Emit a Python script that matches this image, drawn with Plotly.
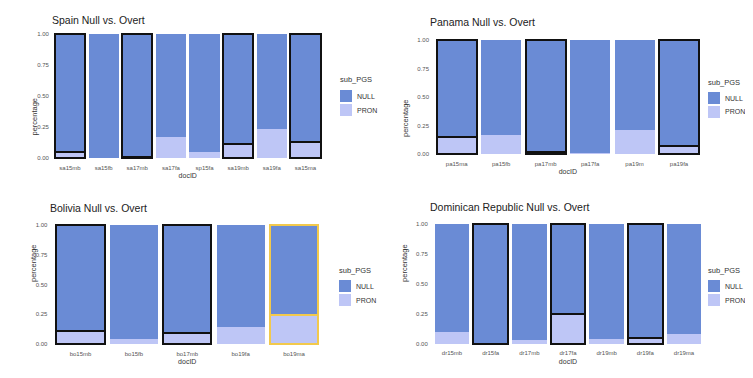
import plotly.graph_objects as go

# ---------------- data ----------------
spain_ids = ["sa15mb", "sa15fb", "sa17mb", "sa17fa", "sp15fa", "sa19mb", "sa19fa", "sa15ma"]
spain_null = [0.95, 1.00, 0.99, 0.83, 0.95, 0.89, 0.77, 0.87]
spain_pron = [0.05, 0.00, 0.01, 0.17, 0.05, 0.11, 0.23, 0.13]

panama_ids = ["pa15ma", "pa15fb", "pa17mb", "pa17fa", "pa19m", "pa19fa"]
panama_null = [0.85, 0.83, 0.98, 0.99, 0.79, 0.93]
panama_pron = [0.15, 0.17, 0.02, 0.01, 0.21, 0.07]

bolivia_ids = ["bo15mb", "bo15fb", "bo17mb", "bo19fa", "bo19ma"]
bolivia_null = [0.89, 0.96, 0.91, 0.86, 0.76]
bolivia_pron = [0.11, 0.04, 0.09, 0.14, 0.24]

dr_ids = ["dr15mb", "dr15fa", "dr17mb", "dr17fa", "dr19mb", "dr19fa", "dr19ma"]
dr_null = [0.90, 1.00, 0.97, 0.75, 0.96, 0.95, 0.92]
dr_pron = [0.10, 0.00, 0.03, 0.25, 0.04, 0.05, 0.08]

titles = ["Spain Null vs. Overt", "Panama Null vs. Overt",
          "Bolivia Null vs. Overt", "Dominican Republic Null vs. Overt"]
legend_title = "sub_PGS"
series_names = ["NULL", "PRON"]
y_ticks = [0, 0.25, 0.5, 0.75, 1.0]
y_tick_labels = ["0.00", "0.25", "0.50", "0.75", "1.00"]

# ---------------- styles / layout ----------------
OFF = 8  # default page body margin
W, H = 753 - 2 * OFF, 378 - 2 * OFF
C_NULL = "#6a8bd5"
C_PRON = "#bec6f6"
BLK = "#111111"
GOLD = "#f2c94c"
NONE = "rgba(0,0,0,0)"

panels = [
    dict(ids=spain_ids, null=spain_null, pron=spain_pron, first=70, last=305.5, y0=158, y1=34,
         outline=[BLK, NONE, BLK, NONE, NONE, BLK, NONE, BLK],
         title_xy=(50, 20), leg_xy=(338, 80), ytitle_x=27),
    dict(ids=panama_ids, null=panama_null, pron=panama_pron, first=456.7, last=679, y0=154, y1=40,
         outline=[BLK, NONE, BLK, NONE, NONE, BLK],
         title_xy=(428, 22), leg_xy=(706, 82), ytitle_x=405),
    dict(ids=bolivia_ids, null=bolivia_null, pron=bolivia_pron, first=80.5, last=294, y0=344, y1=225,
         outline=[BLK, NONE, BLK, NONE, GOLD],
         title_xy=(48, 208), leg_xy=(337, 270), ytitle_x=27),
    dict(ids=dr_ids, null=dr_null, pron=dr_pron, first=452, last=684, y0=343.5, y1=224.3,
         outline=[NONE, BLK, NONE, BLK, NONE, BLK, NONE],
         title_xy=(428, 207), leg_xy=(706, 270), ytitle_x=405),
]


def px(v):
    return v - OFF


def fx(v):
    return px(v) / W


def fy(v):
    return 1 - px(v) / H


FONT = "Liberation Sans, Arial, sans-serif"
fig = go.Figure()
layout = dict(width=W, height=H, margin=dict(l=0, r=0, t=0, b=0),
              paper_bgcolor="white", plot_bgcolor="white", barmode="stack",
              font=dict(family=FONT, color="#333"), annotations=[], shapes=[], showlegend=False)

for i, p in enumerate(panels, start=1):
    n = len(p["ids"])
    first, last, y0, y1 = px(p["first"]), px(p["last"]), px(p["y0"]), px(p["y1"])
    sp = (last - first) / (n - 1)
    xd = [(first - 0.6 * sp) / W, (last + 0.6 * sp) / W]
    sc = y0 - y1
    yd = [1 - (y0 + 0.04 * sc) / H, 1 - (y1 - 0.04 * sc) / H]
    sfx = "" if i == 1 else str(i)
    widths = [0 if c == NONE else 2 for c in p["outline"]]
    for name, vals, col in [(series_names[1], p["pron"], C_PRON), (series_names[0], p["null"], C_NULL)]:
        fig.add_trace(go.Bar(x=list(range(n)), y=vals, name=name, width=0.9, showlegend=False,
                             marker=dict(color=col, line=dict(color=p["outline"], width=widths)),
                             xaxis="x" + sfx, yaxis="y" + sfx))
    layout["xaxis" + sfx] = dict(domain=xd, anchor="y" + sfx, range=[-0.6, n - 0.4],
                                 tickmode="array", tickvals=list(range(n)), ticktext=p["ids"],
                                 tickfont=dict(size=6, color="#555"), showgrid=False,
                                 zeroline=False, showline=False, ticks="", ticklen=0,
                                 title=dict(text="docID", font=dict(size=7, color="#333"), standoff=3))
    layout["yaxis" + sfx] = dict(domain=yd, anchor="x" + sfx, range=[-0.04, 1.04],
                                 tickmode="array", tickvals=y_ticks, ticktext=y_tick_labels,
                                 tickfont=dict(size=6, color="#555"), showgrid=False,
                                 zeroline=False, showline=False, ticks="")
    # ggplot-style legend: title + adjacent square keys with labels
    lx, ly = p["leg_xy"]
    layout["annotations"].append(dict(text=legend_title, x=fx(lx), y=fy(ly), xref="paper", yref="paper",
                                      xanchor="left", yanchor="middle", showarrow=False,
                                      font=dict(size=7.5, color="#333")))
    for k, (name, col) in enumerate([(series_names[0], C_NULL), (series_names[1], C_PRON)]):
        top = ly + 10 + k * 14
        layout["shapes"].append(dict(type="rect", xref="paper", yref="paper",
                                     x0=fx(lx + 2), x1=fx(lx + 14), y0=fy(top + 12), y1=fy(top),
                                     fillcolor=col, line=dict(width=0)))
        layout["annotations"].append(dict(text=name, x=fx(lx + 17), y=fy(top + 6), xref="paper",
                                          yref="paper", xanchor="left", yanchor="middle", showarrow=False,
                                          font=dict(size=7, color="#333")))
    tx, ty = p["title_xy"]
    layout["annotations"].append(dict(text=titles[i - 1], x=fx(tx), y=fy(ty),
                                      xref="paper", yref="paper",
                                      xanchor="left", yanchor="middle", showarrow=False,
                                      font=dict(size=10.5, color="#222")))
    layout["annotations"].append(dict(text="percentage", x=fx(p["ytitle_x"]), y=(yd[0] + yd[1]) / 2,
                                      xref="paper", yref="paper", textangle=-90, showarrow=False,
                                      font=dict(size=7.5, color="#333")))

fig.update_layout(**layout)
fig.write_html("out.html")
